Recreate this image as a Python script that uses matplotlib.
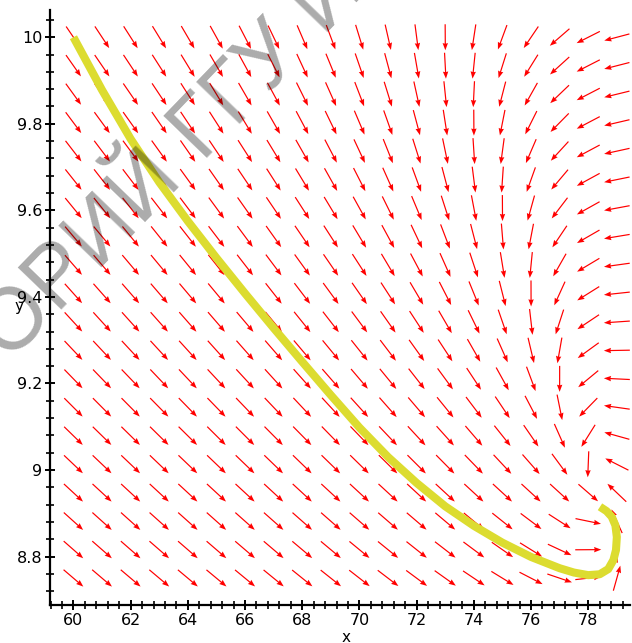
import numpy as np
import matplotlib
matplotlib.use("Agg")
import matplotlib.pyplot as plt
from matplotlib.ticker import MultipleLocator, FuncFormatter

# ---- data ----
# trajectory (solution curve)
traj_x = [60.0, 61.0, 62.0, 63.0, 64.0, 65.0, 66.0, 67.0, 68.0, 69.0, 70.0,
          71.0, 72.0, 73.0, 74.0, 75.0, 76.0, 77.0, 77.5, 78.0, 78.4, 78.7,
          78.88, 78.97, 79.0, 78.95, 78.82, 78.64, 78.41]
traj_y = [10.0, 9.878, 9.765, 9.665, 9.575, 9.49, 9.408, 9.328, 9.25, 9.173,
          9.098, 9.03, 8.97, 8.916, 8.871, 8.832, 8.799, 8.773, 8.763, 8.757,
          8.759, 8.771, 8.792, 8.815, 8.845, 8.872, 8.892, 8.905, 8.915]

# direction-field grid (20 x 20 sample points)
grid_x = np.linspace(60.0, 79.0, 20)
grid_y = np.linspace(8.75, 10.0, 20)

# linear model of the field, fitted to the arrow directions in the picture
eq_x, eq_y = 78.3, 8.95
coef_xx, coef_xy = -1.0, -5.0
coef_yx, coef_yy = 0.0612, -0.14

x_ticks = [60, 62, 64, 66, 68, 70, 72, 74, 76, 78]
y_ticks = [8.8, 9.0, 9.2, 9.4, 9.6, 9.8, 10.0]

# ---- figure ----
W, H = 632, 643
fig = plt.figure(figsize=(W / 100, H / 100), dpi=100)
L, R, B, T = 50, 630, 605, 10
XL, XR, YB, YT = 59.18, 79.46, 8.688, 10.063
ax = fig.add_axes([L / W, 1 - B / H, (R - L) / W, (B - T) / H])
ax.set_xlim(XL, XR)
ax.set_ylim(YB, YT)

# direction field: arrows of constant screen length
GX, GY = np.meshgrid(grid_x, grid_y)
DX = coef_xx * (GX - eq_x) + coef_xy * (GY - eq_y)
DY = coef_yx * (GX - eq_x) + coef_yy * (GY - eq_y)
px_x = (R - L) / (XR - XL)
px_y = (B - T) / (YT - YB)
ang = np.degrees(np.arctan2(DY * px_y, DX * px_x))
Lpx = 26.0
ax.quiver(GX, GY, Lpx * np.cos(np.radians(ang)), Lpx * np.sin(np.radians(ang)),
          angles=ang, scale_units='dots', scale=1, units='dots', pivot='middle',
          width=1.2, headwidth=4.5, headlength=6, headaxislength=5.5,
          color='#ff0000', zorder=2)

# solution curve
ax.plot(traj_x, traj_y, color='#dcdc30', lw=5.8, solid_capstyle='butt',
        solid_joinstyle='round', zorder=3)

# axes styling (Maple-like)
for s in ['top', 'right']:
    ax.spines[s].set_visible(False)
for s in ['left', 'bottom']:
    ax.spines[s].set_linewidth(1.6)
    ax.spines[s].set_color('black')
ax.set_xticks(x_ticks)
ax.set_yticks(y_ticks)
ax.xaxis.set_minor_locator(MultipleLocator(0.4))
ax.yaxis.set_minor_locator(MultipleLocator(0.04))
fmt = FuncFormatter(lambda v, p: ('%g' % round(v, 3)))
ax.xaxis.set_major_formatter(fmt)
ax.yaxis.set_major_formatter(fmt)
ax.tick_params(which='major', direction='inout', length=7, width=1.4,
               labelsize=11.5, pad=2)
ax.tick_params(which='minor', direction='inout', length=5.5, width=1.2)
for lab in ax.get_xticklabels() + ax.get_yticklabels():
    lab.set_fontfamily('DejaVu Sans')

fig.text(346 / W, 1 - 637 / H, 'x', ha='center', va='center', fontsize=11)
fig.text(19 / W, 1 - 306 / H, 'y', ha='center', va='center', fontsize=11)

# watermark
wm_kw = dict(rotation=46, rotation_mode='anchor', va='baseline',
             fontsize=63, color='black', alpha=0.33, family='Liberation Sans',
             zorder=10)
fig.text(184 / W, 1 - 180 / H, 'ТОРИЙ', ha='right', **wm_kw)
fig.text(202 / W, 1 - 162 / H, 'ГГУ ИМЕНИ', ha='left', **wm_kw)

fig.savefig('out.png', dpi=100)
